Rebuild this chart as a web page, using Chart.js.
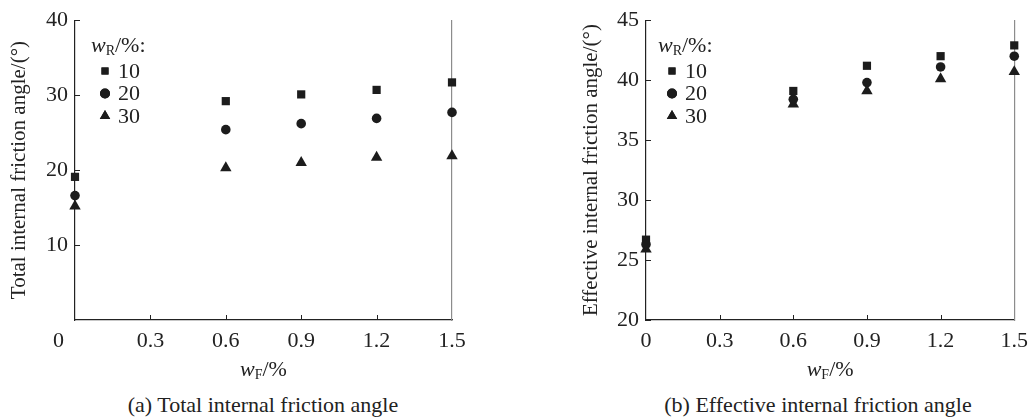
<!DOCTYPE html>
<html>
<head>
<meta charset="utf-8">
<script src="https://cdn.jsdelivr.net/npm/chart.js@4.4.1/dist/chart.umd.min.js"></script>
<style>
  body { margin: 0; background: #fff; }
  #wrap { position: relative; width: 1036px; height: 420px; font-family: 'Liberation Serif', 'Times New Roman', serif; color: #222; }
  canvas { position: absolute; top: 0; }
  #leftChart { left: 0; }
  #rightChart { left: 518px; }
  .caption { position: absolute; top: 391px; font-size: 22px; line-height: 28px; text-align: center; width: 518px; }
</style>
</head>
<body>
<div id="wrap">
  <canvas id="leftChart" width="518" height="390"></canvas>
  <canvas id="rightChart" width="518" height="390"></canvas>
  <div class="caption" style="left:4px">(a) Total internal friction angle</div>
  <div class="caption" style="left:559px">(b) Effective internal friction angle</div>
</div>
<script>
// fibre content w_F (%)
const fiberContent = [0, 0.6, 0.9, 1.2, 1.5];
// rubber content w_R series labels
const seriesLabels = ['10', '20', '30'];

// total internal friction angle (deg)
const totalR10 = [19.1, 29.2, 30.1, 30.7, 31.7];
const totalR20 = [16.6, 25.4, 26.2, 26.9, 27.7];
const totalR30 = [15.2, 20.3, 21.0, 21.7, 21.9];

// effective internal friction angle (deg)
const effR10 = [26.7, 39.1, 41.2, 42.0, 42.9];
const effR20 = [26.3, 38.4, 39.8, 41.1, 42.0];
const effR30 = [25.9, 38.0, 39.1, 40.1, 40.7];

const xTicks = [0, 0.3, 0.6, 0.9, 1.2, 1.5];
const totalYTicks = [10, 20, 30, 40];
const effYTicks = [20, 25, 30, 35, 40, 45];

const SERIF = "'Liberation Serif', 'Times New Roman', serif";
const INK = '#1c1c1c';
const markerStyles = ['rect', 'circle', 'triangle'];
const markerRadius = [5.8, 4.8, 6.6];

Chart.defaults.font.family = SERIF;
Chart.defaults.color = '#222';

function toPoints(ys) {
  return fiberContent.map((x, i) => ({ x: x, y: ys[i] }));
}

function makeDatasets(series) {
  return series.map((ys, i) => ({
    label: seriesLabels[i],
    data: toPoints(ys),
    pointStyle: markerStyles[i],
    pointRadius: markerRadius[i],
    pointHoverRadius: markerRadius[i],
    backgroundColor: INK,
    borderColor: INK,
    borderWidth: 0,
    showLine: false,
    clip: false
  }));
}

// draw text made of parts (italic, subscript) starting at x
function drawParts(ctx, parts, x, y, align) {
  let total = 0;
  parts.forEach(p => { ctx.font = p.font; total += ctx.measureText(p.text).width; });
  let cx = align === 'center' ? x - total / 2 : x;
  ctx.textBaseline = 'middle';
  ctx.textAlign = 'left';
  parts.forEach(p => {
    ctx.font = p.font;
    ctx.fillText(p.text, cx, y + (p.dy || 0));
    cx += ctx.measureText(p.text).width;
  });
}

// inward tick marks, x title, legend
const decorations = {
  id: 'decorations',
  afterDraw(chart, args, opts) {
    const ctx = chart.ctx;
    const area = chart.chartArea;
    const xs = chart.scales.x, ys = chart.scales.y;
    ctx.save();
    ctx.strokeStyle = '#222';
    ctx.lineWidth = 1;
    xTicks.forEach(v => {
      if (v === 0 || v === 1.5) return;
      const px = Math.round(xs.getPixelForValue(v)) + 0.5;
      ctx.beginPath(); ctx.moveTo(px, area.bottom); ctx.lineTo(px, area.bottom - 5); ctx.stroke();
    });
    opts.yTicks.forEach(v => {
      const py = Math.round(ys.getPixelForValue(v)) + 0.5;
      ctx.beginPath(); ctx.moveTo(area.left, py); ctx.lineTo(area.left + 5, py); ctx.stroke();
    });

    ctx.fillStyle = '#222';
    // x axis title  w_F/%
    drawParts(ctx, [
      { text: 'w', font: 'italic 22px ' + SERIF },
      { text: 'F', font: '14px ' + SERIF, dy: 5 },
      { text: '/%', font: '22px ' + SERIF }
    ], (area.left + area.right) / 2, 370, 'center');

    // legend
    const lx = opts.legendX, ly = 46;
    drawParts(ctx, [
      { text: 'w', font: 'italic 22px ' + SERIF },
      { text: 'R', font: '14px ' + SERIF, dy: 5 },
      { text: '/%:', font: '22px ' + SERIF }
    ], lx, ly, 'left');
    const legendRadius = [5, 5, 6];
    seriesLabels.forEach((lab, i) => {
      const cy = 71 + i * 22.5;
      ctx.fillStyle = INK;
      Chart.helpers.drawPoint(ctx, { pointStyle: markerStyles[i], radius: legendRadius[i], rotation: 0, borderWidth: 0 }, lx + 14, cy);
      ctx.fill();
      ctx.fillStyle = '#222';
      ctx.font = '22px ' + SERIF;
      ctx.textAlign = 'left';
      ctx.textBaseline = 'middle';
      ctx.fillText(lab, lx + 27, cy + 1);
    });
    ctx.restore();
  }
};

function makeChart(canvasId, series, yMin, yMax, yTicks, yTitle, layout) {
  const ctx = document.getElementById(canvasId).getContext('2d');
  return new Chart(ctx, {
    type: 'scatter',
    data: { datasets: makeDatasets(series) },
    options: {
      responsive: false,
      animation: false,
      devicePixelRatio: 1,
      layout: { padding: { left: layout.padLeft, right: layout.padRight, top: 17, bottom: 0 } },
      scales: {
        x: {
          type: 'linear',
          min: 0,
          max: 1.5,
          afterBuildTicks: s => { s.ticks = xTicks.map(v => ({ value: v })); },
          afterFit: s => { s.height = 70; },
          grid: { display: false, drawTicks: false },
          border: { color: '#222', width: 1.2 },
          ticks: {
            padding: 8,
            font: { size: 22 },
            color: '#222',
            maxRotation: 0,
            autoSkip: false,
            callback: v => (v === 0 && layout.shiftZero) ? '0\u2003\u2002' : String(v)
          }
        },
        y: {
          min: yMin,
          max: yMax,
          afterBuildTicks: s => { s.ticks = yTicks.map(v => ({ value: v })); },
          afterFit: s => { s.width = layout.yWidth; },
          grid: { display: false, drawTicks: false },
          border: { color: '#222', width: 1.2 },
          ticks: { padding: 7, font: { size: 22 }, color: '#222' },
          title: {
            display: true,
            text: yTitle,
            font: { size: 21 },
            color: '#222',
            padding: { top: layout.titlePad, bottom: 0 }
          }
        },
        y2: {
          position: 'right',
          min: yMin,
          max: yMax,
          afterFit: s => { s.width = 0; },
          grid: { display: false, drawTicks: false },
          ticks: { display: false },
          border: { color: '#8c8c8c', width: 1.2 }
        }
      },
      plugins: {
        legend: { display: false },
        tooltip: { enabled: false },
        decorations: { yTicks: yTicks, legendX: layout.legendX }
      }
    },
    plugins: [decorations]
  });
}

makeChart('leftChart', [totalR10, totalR20, totalR30], 0, 40, totalYTicks,
  'Total internal friction angle/(\u00b0)',
  { padLeft: 0, padRight: 66, yWidth: 75, titlePad: 7, legendX: 91, shiftZero: true });

makeChart('rightChart', [effR10, effR20, effR30], 20, 45, effYTicks,
  'Effective internal friction angle/(\u00b0)',
  { padLeft: 60, padRight: 13, yWidth: 68, titlePad: 1, legendX: 140, shiftZero: false });
</script>
</body>
</html>
